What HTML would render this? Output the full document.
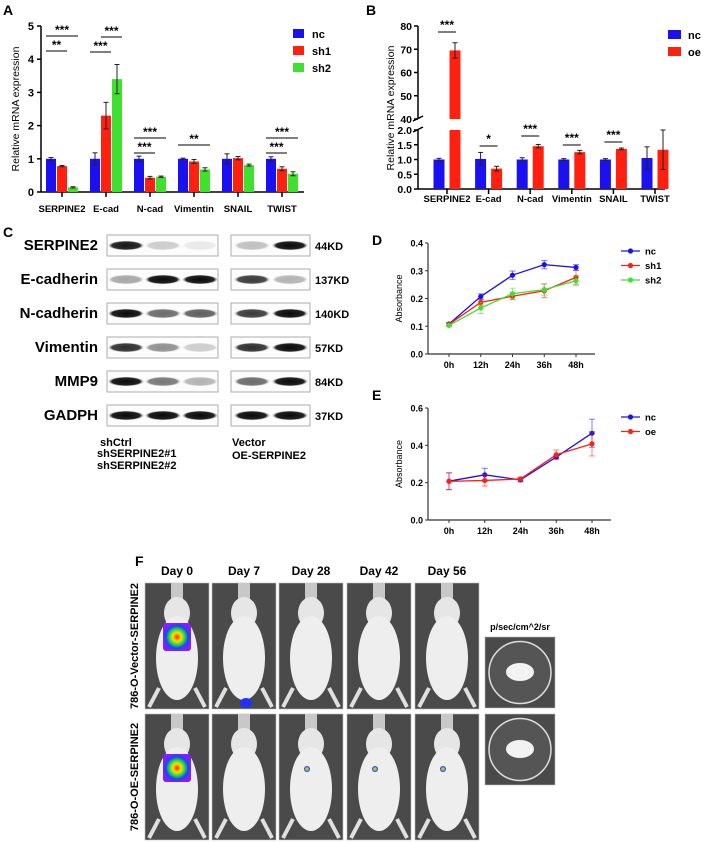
<!DOCTYPE html>
<html><head><meta charset="utf-8">
<style>
html,body{margin:0;padding:0;background:#fff;}
svg{display:block;font-family:"Liberation Sans",Arial,sans-serif;}
.b{font-weight:bold;}
</style></head>
<body>
<svg id="fig" width="703" height="842" viewBox="0 0 703 842" xmlns="http://www.w3.org/2000/svg">
<defs>
<radialGradient id="lum" cx="50%" cy="50%" r="50%">
<stop offset="0" stop-color="#ff2000"/><stop offset="0.3" stop-color="#ffe000"/><stop offset="0.55" stop-color="#20e040"/><stop offset="0.8" stop-color="#2040ff"/><stop offset="1" stop-color="#8020ff"/>
</radialGradient>
<radialGradient id="blot" cx="50%" cy="50%" r="50%"><stop offset="0" stop-color="#0a0a0a"/><stop offset="0.75" stop-color="#222"/><stop offset="1" stop-color="#fff" stop-opacity="0"/></radialGradient>
</defs>
<g id="panelA"></g>
<g id="panelB"></g>
<g id="panelC"></g>
<g id="panelD"></g>
<g id="panelE"></g>
<g id="panelF"></g>
</svg>
<script>
// ---- Panel A data ----
const catsA = ["SERPINE2","E-cad","N-cad","Vimentin","SNAIL","TWIST"];
const ncA = [1,1,1,1,1,1];
const sh1A = [0.78,2.3,0.43,0.92,1.02,0.7];
const sh2A = [0.14,3.4,0.46,0.68,0.81,0.55];
const ncAerr = [0.04,0.18,0.08,0.02,0.15,0.06];
const sh1Aerr = [0.02,0.4,0.04,0.06,0.05,0.06];
const sh2Aerr = [0.02,0.44,0.02,0.05,0.03,0.06];
const ticksA = [0,1,2,3,4,5];
// ---- Panel B data ----
const catsB = ["SERPINE2","E-cad","N-cad","Vimentin","SNAIL","TWIST"];
const ncB = [1,1.02,1,1,1,1.05];
const oeB = [69.5,0.69,1.45,1.25,1.36,1.33];
const ncBerr = [0.04,0.22,0.06,0.03,0.03,0.38];
const oeBerr = [3.3,0.08,0.06,0.06,0.03,0.67];
const ticksBlow = ["0.0","0.5","1.0","1.5","2.0"];
const ticksBhigh = [40,50,60,70,80];
// ---- Panel D data ----
const timesD = ["0h","12h","24h","36h","48h"];
const ncD = [0.108,0.207,0.284,0.322,0.312];
const sh1D = [0.107,0.186,0.208,0.228,0.276];
const sh2D = [0.103,0.166,0.217,0.232,0.264];
const ncDerr = [0.005,0.01,0.015,0.015,0.01];
const sh1Derr = [0.005,0.01,0.012,0.025,0.025];
const sh2Derr = [0.005,0.02,0.02,0.02,0.018];
const ticksD = ["0.0","0.1","0.2","0.3","0.4"];
// ---- Panel E data ----
const timesE = ["0h","12h","24h","36h","48h"];
const ncE = [0.208,0.242,0.215,0.337,0.465];
const oeE = [0.207,0.212,0.22,0.35,0.408];
const ncEerr = [0.045,0.035,0.01,0.01,0.075];
const oeEerr = [0.045,0.03,0.01,0.025,0.065];
const ticksE = ["0.0","0.2","0.4","0.6"];

const NS="http://www.w3.org/2000/svg";
function mk(parent,tag,attrs,text){const e=document.createElementNS(NS,tag);for(const k in attrs)e.setAttribute(k,attrs[k]);if(text!==undefined)e.textContent=text;parent.appendChild(e);return e;}
const BLUE="#1a10f0",RED="#ff2010",GREEN="#40e030";

// ===== Panel A =====
(function(){
const g=document.getElementById('panelA');
const y0=192,ppu=33.2,xL=41,xR=304;
const ya=v=>y0-v*ppu;
const gx=i=>62+i*44;
let t=mk(g,'text',{x:3,y:15,'font-size':14,class:'b'},'A');

mk(g,'line',{x1:xL,y1:ya(5),x2:xL,y2:y0,stroke:'#000','stroke-width':1.5});
mk(g,'line',{x1:xL,y1:y0,x2:xR,y2:y0,stroke:'#000','stroke-width':1.5});
ticksA.forEach(v=>{mk(g,'line',{x1:xL-4,y1:ya(v),x2:xL,y2:ya(v),stroke:'#000','stroke-width':1.5});
 const tt=mk(g,'text',{x:xL-7,y:ya(v)+4,'font-size':11,'text-anchor':'end',class:'b'},v);
 });
t=mk(g,'text',{transform:`translate(19,${(y0+ya(5))/2}) rotate(-90)`,'font-size':10.5,'text-anchor':'middle'},'Relative mRNA expression');

const series=[[ncA,ncAerr,BLUE,-11],[sh1A,sh1Aerr,RED,0],[sh2A,sh2Aerr,GREEN,11]];
catsA.forEach((c,i)=>{
 mk(g,'line',{x1:gx(i),y1:y0,x2:gx(i),y2:y0+5,stroke:'#000','stroke-width':1.5});
 const l=mk(g,'text',{x:gx(i),y:y0+20,'font-size':9.5,'text-anchor':'middle',class:'b'},c);
 
 series.forEach(([vals,errs,col,off])=>{
  const cx=gx(i)+off;const r=mk(g,'rect',{x:cx-5,y:ya(vals[i]),width:10,height:ya(0)-ya(vals[i]),fill:col});
  
  const e1=ya(vals[i]+errs[i]),e2=ya(vals[i]-errs[i]);
  mk(g,'line',{x1:cx,y1:e1,x2:cx,y2:e2,stroke:'#222','stroke-width':1});
  mk(g,'line',{x1:cx-2.5,y1:e1,x2:cx+2.5,y2:e1,stroke:'#222','stroke-width':1});
  mk(g,'line',{x1:cx-2.5,y1:e2,x2:cx+2.5,y2:e2,stroke:'#222','stroke-width':1});
 });
});
const sig=[[0,0,1,51,'**'],[0,0,2,36,'***'],[1,0,1,52,'***'],[1,1,2,37,'***'],[2,0,1,153,'***'],[2,0,2,138,'***'],[3,0,2,145,'**'],[5,0,1,153,'***'],[5,0,2,138,'***']];
const offs=[-11,0,11];
sig.forEach(([i,a,b,y,s])=>{mk(g,'line',{x1:gx(i)+offs[a]-5,y1:y,x2:gx(i)+offs[b]+5,y2:y,stroke:'#000','stroke-width':1});
 mk(g,'text',{x:(gx(i)*2+offs[a]+offs[b])/2,y:y-2,'font-size':12,'text-anchor':'middle',class:'b'},s);});
[["nc",BLUE],["sh1",RED],["sh2",GREEN]].forEach(([n,c],k)=>{
 const r=mk(g,'rect',{x:293,y:29+k*17,width:11,height:9,fill:c});
 const tt=mk(g,'text',{x:312,y:38+k*17,'font-size':11,class:'b'},n);});
})();

// ===== Panel B =====
(function(){
const g=document.getElementById('panelB');
const xL=418,xR=665,y0=189;
const yLow=v=>y0-v*29.5;
const yHigh=v=>119-(v-40)*2.325;
const gx=i=>447+i*41.6;
let t=mk(g,'text',{x:366,y:15,'font-size':14,class:'b'},'B');
mk(g,'line',{x1:xL,y1:26,x2:xL,y2:119,stroke:'#000','stroke-width':1.5});
mk(g,'line',{x1:xL,y1:130,x2:xL,y2:y0,stroke:'#000','stroke-width':1.5});
mk(g,'line',{x1:xL-5,y1:121,x2:xL+5,y2:116,stroke:'#000','stroke-width':1.5});
mk(g,'line',{x1:xL-5,y1:132,x2:xL+5,y2:127,stroke:'#000','stroke-width':1.5});
mk(g,'line',{x1:xL,y1:y0,x2:xR,y2:y0,stroke:'#000','stroke-width':1.5});
ticksBlow.forEach(v=>{const y=yLow(+v);mk(g,'line',{x1:xL-4,y1:y,x2:xL,y2:y,stroke:'#000','stroke-width':1.5});
 const tt=mk(g,'text',{x:xL-6,y:y+4,'font-size':10.5,'text-anchor':'end',class:'b'},v);});
ticksBhigh.forEach(v=>{const y=yHigh(v);mk(g,'line',{x1:xL-4,y1:y,x2:xL,y2:y,stroke:'#000','stroke-width':1.5});
 const tt=mk(g,'text',{x:xL-6,y:y+4,'font-size':10.5,'text-anchor':'end',class:'b'},v);});
t=mk(g,'text',{transform:`translate(394,108) rotate(-90)`,'font-size':10.5,'text-anchor':'middle'},'Relative mRNA expression');

function yv(v){return v<=2?yLow(v):(v<40?130:yHigh(v));}
const series=[[ncB,ncBerr,BLUE,-8],[oeB,oeBerr,RED,8]];
catsB.forEach((c,i)=>{
 mk(g,'line',{x1:gx(i),y1:y0,x2:gx(i),y2:y0+5,stroke:'#000','stroke-width':1.5});
 const l=mk(g,'text',{x:gx(i),y:y0+13,'font-size':9.5,'text-anchor':'middle',class:'b'},c);
 series.forEach(([vals,errs,col,off])=>{const cx=gx(i)+off,v=vals[i];
  if(v>2){let r=mk(g,'rect',{x:cx-5.5,y:yLow(2),width:11,height:y0-yLow(2),fill:col});
   r=mk(g,'rect',{x:cx-5.5,y:yHigh(v),width:11,height:119-yHigh(v),fill:col});}
  else{const r=mk(g,'rect',{x:cx-5.5,y:yLow(v),width:11,height:y0-yLow(v),fill:col});}
  const e1=yv(v+errs[i]),e2=yv(v-errs[i]);
  mk(g,'line',{x1:cx,y1:e1,x2:cx,y2:e2,stroke:'#222','stroke-width':1});
  mk(g,'line',{x1:cx-2.5,y1:e1,x2:cx+2.5,y2:e1,stroke:'#222','stroke-width':1});
  mk(g,'line',{x1:cx-2.5,y1:e2,x2:cx+2.5,y2:e2,stroke:'#222','stroke-width':1});});
});
[[0,32,'***'],[1,146,'*'],[2,136,'***'],[3,145,'***'],[4,142,'***']].forEach(([i,y,s])=>{
 mk(g,'line',{x1:gx(i)-9,y1:y,x2:gx(i)+9,y2:y,stroke:'#000','stroke-width':1});
 mk(g,'text',{x:gx(i),y:y-3,'font-size':12,'text-anchor':'middle',class:'b'},s);});
[["nc",BLUE],["oe",RED]].forEach(([n,c],k)=>{
 const r=mk(g,'rect',{x:668,y:30+k*17,width:13,height:9,fill:c});
 const tt=mk(g,'text',{x:688,y:39+k*17,'font-size':11,class:'b'},n);});
})();

// ===== Panel C =====
(function(){
const g=document.getElementById('panelC');
let t=mk(g,'text',{x:3,y:237,'font-size':14,class:'b'},'C');
const prots=["SERPINE2","E-cadherin","N-cadherin","Vimentin","MMP9","GADPH"];
const kd=["44KD","137KD","140KD","57KD","84KD","37KD"];
const left=[[0.95,0.2,0.08],[0.35,1,1],[1,0.6,0.65],[0.85,0.45,0.2],[1,0.55,0.3],[1,1,1]];
const right=[[0.25,1],[0.8,0.3],[0.8,1],[0.85,1],[0.6,1],[1,1]];
prots.forEach((p,i)=>{const top=235+i*34;
 const l=mk(g,'text',{x:98,y:top+15,'font-size':15,'text-anchor':'end',class:'b'},p);
 const k=mk(g,'text',{x:315,y:top+15,'font-size':11,class:'b'},kd[i]);
 mk(g,'rect',{x:107,y:top,width:111,height:21,fill:'#fcfcfc',stroke:'#999','stroke-width':0.8});
 mk(g,'rect',{x:231,y:top,width:79,height:21,fill:'#fcfcfc',stroke:'#999','stroke-width':0.8});
 left[i].forEach((a,j)=>mk(g,'ellipse',{cx:126+j*37,cy:top+10.5,rx:19,ry:5,fill:'url(#blot)',opacity:a}));
 right[i].forEach((a,j)=>mk(g,'ellipse',{cx:252+j*38,cy:top+10.5,rx:19,ry:5,fill:'url(#blot)',opacity:a}));
});
[["shCtrl",100,446],["shSERPINE2#1",97,457],["shSERPINE2#2",97,469],["Vector",232,446],["OE-SERPINE2",232,459]].forEach(([s,x,y])=>{
 const tt=mk(g,'text',{x:x,y:y,'font-size':11,class:'b'},s);});
})();

// ===== line charts =====
function lineChart(gid,letter,ly,xL,xR,y0,yTop,vmax,ticks,times,series,legY){
 const g=document.getElementById(gid);
 const ys=v=>y0-(v/vmax)*(y0-yTop);
 const xs=i=>xL+21+i*(xR-xL-40)/4;
 let t=mk(g,'text',{x:372,y:ly,'font-size':14,class:'b'},letter);
 mk(g,'line',{x1:xL,y1:yTop,x2:xL,y2:y0,stroke:'#333','stroke-width':1.2});
 mk(g,'line',{x1:xL,y1:y0,x2:xR,y2:y0,stroke:'#333','stroke-width':1.2});
 ticks.forEach(v=>{const y=ys(+v);mk(g,'line',{x1:xL-3,y1:y,x2:xL,y2:y,stroke:'#333'});
  const tt=mk(g,'text',{x:xL-5,y:y+3.5,'font-size':9,'text-anchor':'end',class:'b'},v);});
 times.forEach((s,i)=>{mk(g,'line',{x1:xs(i),y1:y0,x2:xs(i),y2:y0+3,stroke:'#333'});
  const tt=mk(g,'text',{x:xs(i),y:y0+14,'font-size':9,'text-anchor':'middle',class:'b'},s);});
 t=mk(g,'text',{transform:`translate(${xL-26},${(y0+yTop)/2}) rotate(-90)`,'font-size':9,'text-anchor':'middle'},'Absorbance');
 
 series.forEach(([name,vals,errs,col],k)=>{
  const pl=mk(g,'polyline',{points:vals.map((v,i)=>xs(i)+','+ys(v)).join(' '),fill:'none',stroke:col,'stroke-width':1.3});
  
  vals.forEach((v,i)=>{const x=xs(i),e1=ys(v+errs[i]),e2=ys(v-errs[i]);
   mk(g,'line',{x1:x,y1:e1,x2:x,y2:e2,stroke:col,'stroke-opacity':0.55});
   mk(g,'line',{x1:x-3,y1:e1,x2:x+3,y2:e1,stroke:col,'stroke-opacity':0.55});
   mk(g,'line',{x1:x-3,y1:e2,x2:x+3,y2:e2,stroke:col,'stroke-opacity':0.55});
   const c=mk(g,'circle',{cx:x,cy:ys(v),r:2.6,fill:col});});
  const ly2=legY+k*14.5;
  mk(g,'line',{x1:621,y1:ly2,x2:640,y2:ly2,stroke:col,'stroke-width':1.3});
  mk(g,'circle',{cx:630.5,cy:ly2,r:2.6,fill:col});
  const tt=mk(g,'text',{x:645,y:ly2+3.5,'font-size':9.5,class:'b'},name);
 });
}
lineChart('panelD','D',245,428,595,354,243,0.4,ticksD,timesD,[["nc",ncD,ncDerr,BLUE],["sh1",sh1D,sh1Derr,RED],["sh2",sh2D,sh2Derr,GREEN]],251);
lineChart('panelE','E',400,428,611,520,408,0.6,ticksE,timesE,[["nc",ncE,ncEerr,BLUE],["oe",oeE,oeEerr,RED]],417);

// ===== Panel F =====
(function(){
const g=document.getElementById('panelF');
let t=mk(g,'text',{x:135,y:566,'font-size':14,class:'b'},'F');
const cols=[145,212,279,347,415];
const days=["Day 0","Day 7","Day 28","Day 42","Day 56"];
days.forEach((d,i)=>{const tt=mk(g,'text',{x:cols[i]+32,y:575,'font-size':12,'text-anchor':'middle',class:'b'},d);});
[583,714].forEach((top,r)=>{
 cols.forEach((x,i)=>{
  const im=mk(g,'g',{});
  
  
  mk(im,'rect',{x:x,y:top,width:64,height:126,fill:'#4a4a4a',stroke:'#bbb','stroke-width':0.6});
  mk(im,'rect',{x:x+26,y:top,width:12,height:18,fill:'#c8c8c8'});
  mk(im,'ellipse',{cx:x+32,cy:top+30,rx:13,ry:16,fill:'#e6e6e6'});
  mk(im,'ellipse',{cx:x+32,cy:top+75,rx:21,ry:42,fill:'#eeeeee'});
  mk(im,'path',{d:`M${x+14} ${top+105} L${x+4} ${top+124} M${x+50} ${top+105} L${x+60} ${top+124}`,stroke:'#e0e0e0','stroke-width':4,fill:'none'});
  if(i===0) mk(im,'rect',{x:x+18,y:top+40,width:28,height:28,fill:'url(#lum)',rx:3});
  if(r===1&&i>1) mk(im,'circle',{cx:x+28,cy:top+55,r:3,fill:'url(#lum)'});
  if(r===0&&i===1) mk(im,'ellipse',{cx:x+34,cy:top+120,rx:6,ry:5,fill:'#2030ff'});
 });
 const d=mk(g,'g',{});
 
 
 mk(d,'rect',{x:485,y:top+54-(r?54:0),width:70,height:71,fill:'#4a4a4a',stroke:'#bbb','stroke-width':0.6});
 mk(d,'circle',{cx:520,cy:top+89.5-(r?54:0),r:31,fill:'#555',stroke:'#ddd','stroke-width':1.5});
 mk(d,'ellipse',{cx:520,cy:top+89-(r?54:0),rx:14,ry:9,fill:'#f2f2f2'});
});
t=mk(g,'text',{x:520,y:630,'font-size':9,'text-anchor':'middle',class:'b'},'p/sec/cm^2/sr');
t=mk(g,'text',{transform:'translate(138,646) rotate(-90)','font-size':11,'text-anchor':'middle',class:'b'},'786-O-Vector-SERPINE2');
t=mk(g,'text',{transform:'translate(138,777) rotate(-90)','font-size':11,'text-anchor':'middle',class:'b'},'786-O-OE-SERPINE2');
})();
</script>
</body></html>
